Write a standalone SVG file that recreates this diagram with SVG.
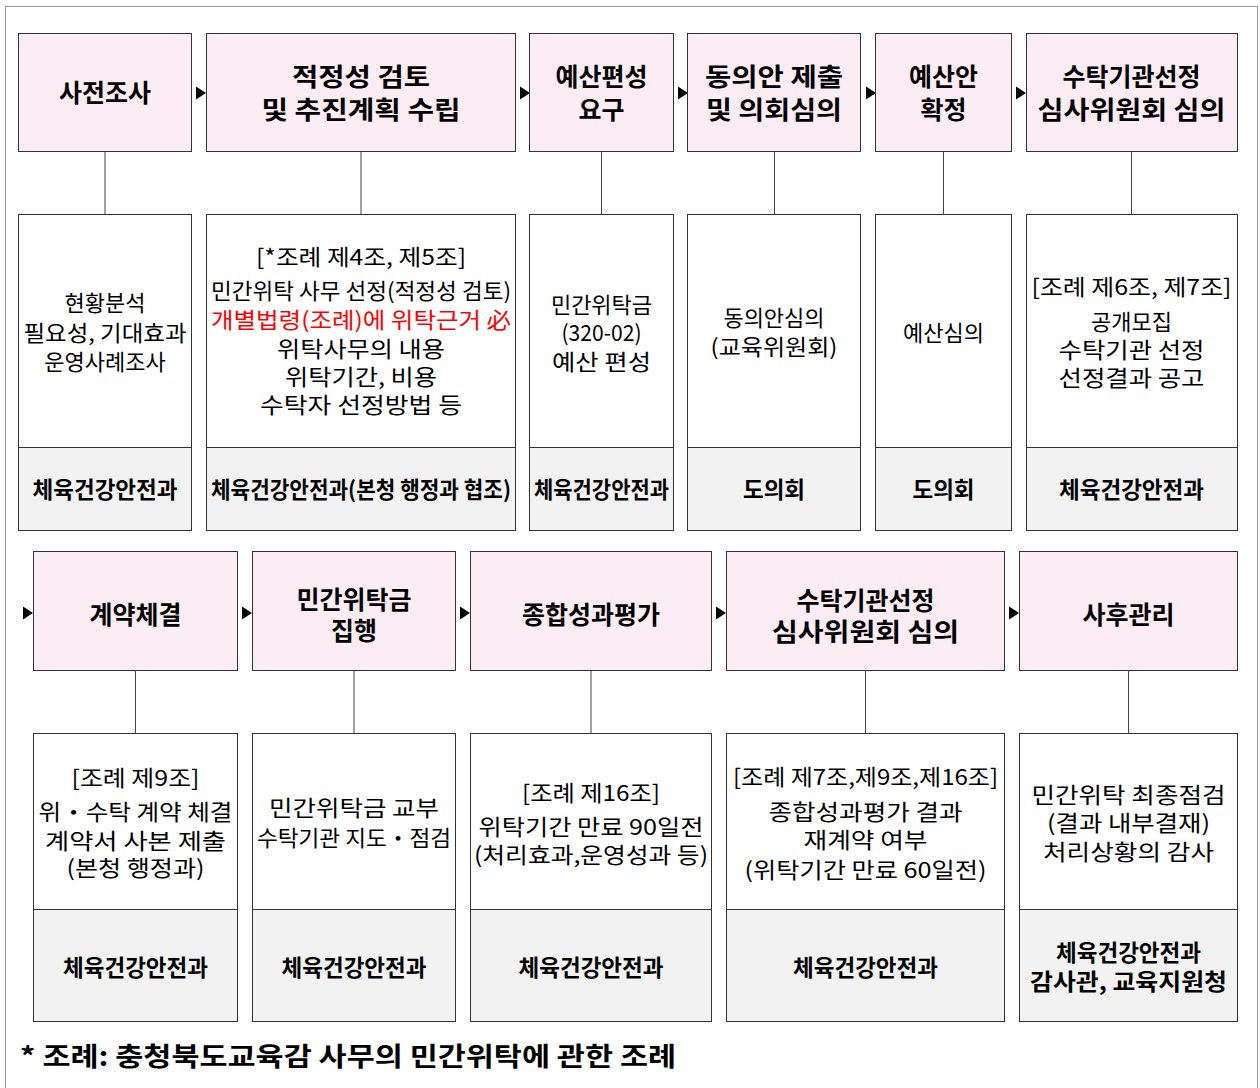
<svg xmlns="http://www.w3.org/2000/svg" xmlns:xlink="http://www.w3.org/1999/xlink" width="1260" height="1088" viewBox="0 0 1260 1088">
<style>
.hd{fill:#fcedf5;stroke:#333;stroke-width:1}
.bd{fill:#fff;stroke:#333;stroke-width:1}
.ft{fill:#f2f2f2;stroke:#333;stroke-width:1}
text{font-family:"Noto Sans CJK KR","Noto Sans",sans-serif;text-anchor:middle;fill:#000}
.h{font-size:25px;font-weight:bold}
.t{font-size:22px}
.f{font-size:22.5px;font-weight:bold}
.red{fill:#ff0000}
.cn{stroke:#444;stroke-width:1;fill:none}
</style>
<defs>
<polygon id="ah" points="-10,-6.5 0,0 -10,6.5" fill="#000"/>
</defs>
<rect x="5.5" y="6.5" width="1252" height="1120" fill="#fff" stroke="#999" stroke-width="1"/>

<g id="connectors">
<line class="cn" x1="105" y1="151.5" x2="105" y2="214.5"/>
<line class="cn" x1="361" y1="151.5" x2="361" y2="214.5"/>
<line class="cn" x1="601.5" y1="151.5" x2="601.5" y2="214.5"/>
<line class="cn" x1="774.5" y1="151.5" x2="774.5" y2="214.5"/>
<line class="cn" x1="943.5" y1="151.5" x2="943.5" y2="214.5"/>
<line class="cn" x1="1131.5" y1="151.5" x2="1131.5" y2="214.5"/>
<line class="cn" x1="135.5" y1="670.5" x2="135.5" y2="733.5"/>
<line class="cn" x1="354" y1="670.5" x2="354" y2="733.5"/>
<line class="cn" x1="591" y1="670.5" x2="591" y2="733.5"/>
<line class="cn" x1="865.5" y1="670.5" x2="865.5" y2="733.5"/>
<line class="cn" x1="1128.5" y1="670.5" x2="1128.5" y2="733.5"/>
<use xlink:href="#ah" x="206" y="93"/>
<use xlink:href="#ah" x="530" y="93"/>
<use xlink:href="#ah" x="688" y="93"/>
<use xlink:href="#ah" x="876" y="93"/>
<use xlink:href="#ah" x="1026" y="93"/>
<use xlink:href="#ah" x="33" y="613"/>
<use xlink:href="#ah" x="252" y="613"/>
<use xlink:href="#ah" x="470" y="613"/>
<use xlink:href="#ah" x="726" y="613"/>
<use xlink:href="#ah" x="1019" y="613"/>
</g>

<g id="n1">
<rect class="hd" x="18.5" y="33.5" width="173" height="118"/>
<text class="h" x="105" y="102">사전조사</text>
<rect class="bd" x="18.5" y="214.5" width="173" height="233"/>
<rect class="ft" x="18.5" y="447.5" width="173" height="83"/>
<text class="t" x="105" y="311">현황분석</text>
<text class="t" x="105" y="341" textLength="163" lengthAdjust="spacingAndGlyphs">필요성, 기대효과</text>
<text class="t" x="105" y="370">운영사례조사</text>
<text class="f" x="105" y="498">체육건강안전과</text>
</g>

<g id="n2">
<rect class="hd" x="206.5" y="33.5" width="309" height="118"/>
<text class="h" x="361" y="86" textLength="138" lengthAdjust="spacingAndGlyphs">적정성 검토</text>
<text class="h" x="361" y="119" textLength="199" lengthAdjust="spacingAndGlyphs">및 추진계획 수립</text>
<rect class="bd" x="206.5" y="214.5" width="309" height="233"/>
<rect class="ft" x="206.5" y="447.5" width="309" height="83"/>
<text class="t" x="361" y="265" textLength="210" lengthAdjust="spacingAndGlyphs">[*조례 제4조, 제5조]</text>
<text class="t" x="361" y="299" textLength="300" lengthAdjust="spacingAndGlyphs">민간위탁 사무 선정(적정성 검토)</text>
<text class="t red" x="361" y="328" textLength="300" lengthAdjust="spacingAndGlyphs">개별법령(조례)에 위탁근거 必</text>
<text class="t" x="361" y="357" textLength="168" lengthAdjust="spacingAndGlyphs">위탁사무의 내용</text>
<text class="t" x="361" y="385" textLength="152" lengthAdjust="spacingAndGlyphs">위탁기간, 비용</text>
<text class="t" x="361" y="413" textLength="202" lengthAdjust="spacingAndGlyphs">수탁자 선정방법 등</text>
<text class="f" x="361" y="498" textLength="300" lengthAdjust="spacingAndGlyphs">체육건강안전과(본청 행정과 협조)</text>
</g>

<g id="n3">
<rect class="hd" x="529.5" y="33.5" width="144" height="118"/>
<text class="h" x="601.5" y="86">예산편성</text>
<text class="h" x="601.5" y="119">요구</text>
<rect class="bd" x="529.5" y="214.5" width="144" height="233"/>
<rect class="ft" x="529.5" y="447.5" width="144" height="83"/>
<text class="t" x="601.5" y="313">민간위탁금</text>
<text class="t" x="601.5" y="341" textLength="80" lengthAdjust="spacingAndGlyphs">(320-02)</text>
<text class="t" x="601.5" y="370" textLength="99" lengthAdjust="spacingAndGlyphs">예산 편성</text>
<text class="f" x="601.5" y="498" textLength="135" lengthAdjust="spacingAndGlyphs">체육건강안전과</text>
</g>

<g id="n4">
<rect class="hd" x="687.5" y="33.5" width="173" height="118"/>
<text class="h" x="774" y="86" textLength="138" lengthAdjust="spacingAndGlyphs">동의안 제출</text>
<text class="h" x="774" y="119" textLength="136" lengthAdjust="spacingAndGlyphs">및 의회심의</text>
<rect class="bd" x="687.5" y="214.5" width="173" height="233"/>
<rect class="ft" x="687.5" y="447.5" width="173" height="83"/>
<text class="t" x="774" y="326">동의안심의</text>
<text class="t" x="774" y="355" textLength="127" lengthAdjust="spacingAndGlyphs">(교육위원회)</text>
<text class="f" x="774" y="498">도의회</text>
</g>

<g id="n5">
<rect class="hd" x="875.5" y="33.5" width="136" height="118"/>
<text class="h" x="943.5" y="86">예산안</text>
<text class="h" x="943.5" y="119">확정</text>
<rect class="bd" x="875.5" y="214.5" width="136" height="233"/>
<rect class="ft" x="875.5" y="447.5" width="136" height="83"/>
<text class="t" x="943.5" y="341">예산심의</text>
<text class="f" x="943.5" y="498">도의회</text>
</g>

<g id="n6">
<rect class="hd" x="1026.5" y="33.5" width="211" height="118"/>
<text class="h" x="1131.5" y="86">수탁기관선정</text>
<text class="h" x="1131.5" y="119" textLength="188" lengthAdjust="spacingAndGlyphs">심사위원회 심의</text>
<rect class="bd" x="1026.5" y="214.5" width="211" height="233"/>
<rect class="ft" x="1026.5" y="447.5" width="211" height="83"/>
<text class="t" x="1131.5" y="295" textLength="200" lengthAdjust="spacingAndGlyphs">[조례 제6조, 제7조]</text>
<text class="t" x="1131.5" y="330">공개모집</text>
<text class="t" x="1131.5" y="358" textLength="146" lengthAdjust="spacingAndGlyphs">수탁기관 선정</text>
<text class="t" x="1131.5" y="386" textLength="146" lengthAdjust="spacingAndGlyphs">선정결과 공고</text>
<text class="f" x="1131.5" y="498">체육건강안전과</text>
</g>

<g id="n7">
<rect class="hd" x="33.5" y="551.5" width="204" height="119"/>
<text class="h" x="135.5" y="624">계약체결</text>
<rect class="bd" x="33.5" y="733.5" width="204" height="176"/>
<rect class="ft" x="33.5" y="909.5" width="204" height="112"/>
<text class="t" x="135.5" y="786" textLength="128" lengthAdjust="spacingAndGlyphs">[조례 제9조]</text>
<text class="t" x="135.5" y="820" textLength="194" lengthAdjust="spacingAndGlyphs">위・수탁 계약 체결</text>
<text class="t" x="135.5" y="849" textLength="181" lengthAdjust="spacingAndGlyphs">계약서 사본 제출</text>
<text class="t" x="135.5" y="876" textLength="138" lengthAdjust="spacingAndGlyphs">(본청 행정과)</text>
<text class="f" x="135.5" y="976">체육건강안전과</text>
</g>

<g id="n8">
<rect class="hd" x="252.5" y="551.5" width="203" height="119"/>
<text class="h" x="354" y="609">민간위탁금</text>
<text class="h" x="354" y="640">집행</text>
<rect class="bd" x="252.5" y="733.5" width="203" height="176"/>
<rect class="ft" x="252.5" y="909.5" width="203" height="112"/>
<text class="t" x="354" y="816" textLength="170" lengthAdjust="spacingAndGlyphs">민간위탁금 교부</text>
<text class="t" x="354" y="846" textLength="194" lengthAdjust="spacingAndGlyphs">수탁기관 지도・점검</text>
<text class="f" x="354" y="976">체육건강안전과</text>
</g>

<g id="n9">
<rect class="hd" x="470.5" y="551.5" width="241" height="119"/>
<text class="h" x="591" y="624">종합성과평가</text>
<rect class="bd" x="470.5" y="733.5" width="241" height="176"/>
<rect class="ft" x="470.5" y="909.5" width="241" height="112"/>
<text class="t" x="591" y="801" textLength="138" lengthAdjust="spacingAndGlyphs">[조례 제16조]</text>
<text class="t" x="591" y="835" textLength="225" lengthAdjust="spacingAndGlyphs">위탁기간 만료 90일전</text>
<text class="t" x="591" y="863" textLength="234" lengthAdjust="spacingAndGlyphs">(처리효과,운영성과 등)</text>
<text class="f" x="591" y="976">체육건강안전과</text>
</g>

<g id="n10">
<rect class="hd" x="726.5" y="551.5" width="278" height="119"/>
<text class="h" x="865.5" y="610">수탁기관선정</text>
<text class="h" x="865.5" y="641" textLength="187" lengthAdjust="spacingAndGlyphs">심사위원회 심의</text>
<rect class="bd" x="726.5" y="733.5" width="278" height="176"/>
<rect class="ft" x="726.5" y="909.5" width="278" height="112"/>
<text class="t" x="865.5" y="785" textLength="265" lengthAdjust="spacingAndGlyphs">[조례 제7조,제9조,제16조]</text>
<text class="t" x="865.5" y="820" textLength="194" lengthAdjust="spacingAndGlyphs">종합성과평가 결과</text>
<text class="t" x="865.5" y="848" textLength="124" lengthAdjust="spacingAndGlyphs">재계약 여부</text>
<text class="t" x="865.5" y="878" textLength="242" lengthAdjust="spacingAndGlyphs">(위탁기간 만료 60일전)</text>
<text class="f" x="865.5" y="976">체육건강안전과</text>
</g>

<g id="n11">
<rect class="hd" x="1019.5" y="551.5" width="218" height="119"/>
<text class="h" x="1128.5" y="624">사후관리</text>
<rect class="bd" x="1019.5" y="733.5" width="218" height="176"/>
<rect class="ft" x="1019.5" y="909.5" width="218" height="112"/>
<text class="t" x="1128.5" y="803" textLength="194" lengthAdjust="spacingAndGlyphs">민간위탁 최종점검</text>
<text class="t" x="1128.5" y="831" textLength="163" lengthAdjust="spacingAndGlyphs">(결과 내부결재)</text>
<text class="t" x="1128.5" y="860" textLength="171" lengthAdjust="spacingAndGlyphs">처리상황의 감사</text>
<text class="f" x="1128.5" y="961">체육건강안전과</text>
<text class="f" x="1128.5" y="990" textLength="197" lengthAdjust="spacingAndGlyphs">감사관, 교육지원청</text>
</g>

<g id="note">
<text x="20" y="1066" style="font-size:26px;font-weight:bold;text-anchor:start" textLength="656" lengthAdjust="spacingAndGlyphs">* 조례: 충청북도교육감 사무의 민간위탁에 관한 조례</text>
</g>
</svg>
